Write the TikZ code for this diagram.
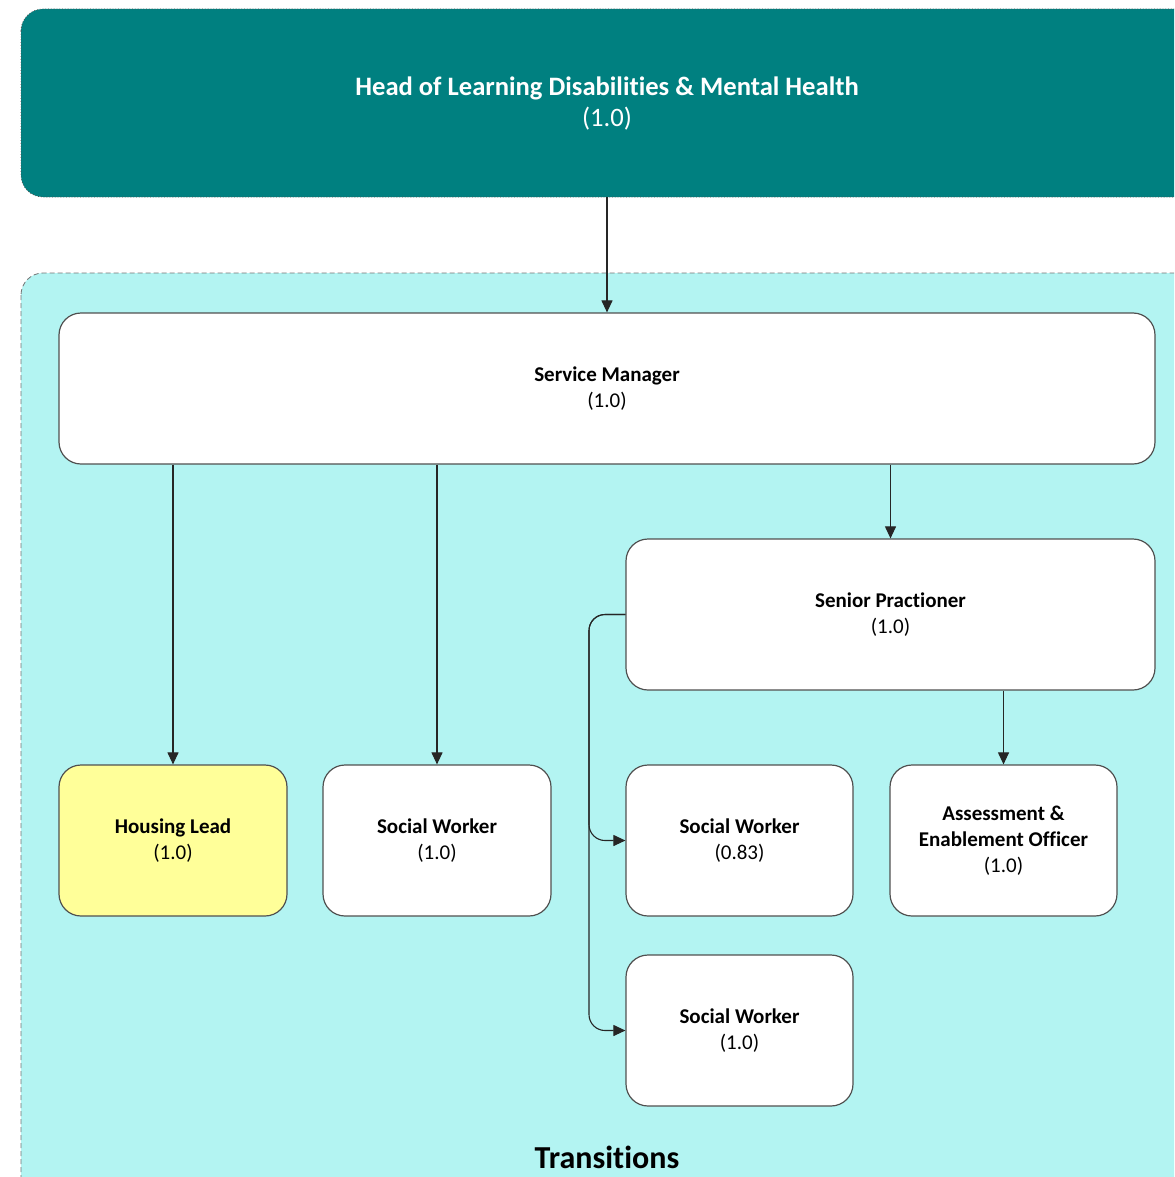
\documentclass[tikz,border=0pt]{standalone}
\usepackage{fontspec}
\setmainfont{Carlito}[Ligatures=NoCommon]
\usetikzlibrary{arrows.meta,positioning}

\definecolor{headteal}{HTML}{008080}
\definecolor{groupcyan}{HTML}{B3F4F2}
\definecolor{leadyellow}{HTML}{FFFF99}
\definecolor{edgegray}{HTML}{505050}

% break the t-i ligature
\newcommand{\tsep}{\kern0pt}

\tikzset{
    orgbox/.style={draw=edgegray, line width=0.6pt, fill=white, rounded corners=11pt, align=center,
        inner sep=0pt, font=\fontsize{10.5}{13}\selectfont},
    link/.style={draw=black!85, line width=0.55pt, -{Triangle[length=6pt,width=5.5pt]}}
}

\begin{document}
\begin{tikzpicture}[x=0.5pt, y=-0.5pt]
    \clip (0,0) rectangle (1174,1177);

    % Head box, runs off the right edge
    \draw[draw=edgegray, densely dotted, fill=headteal, rounded corners=11pt]
        (21,9) rectangle (1240,197);
    \node[text=white, align=center, font=\fontsize{13.3}{15.5}\selectfont] (head) at (607,104)
        {\textbf{Head of Learning Disabilit\tsep ies \& Mental Health}\\(1.0)};
    \coordinate (headbot) at (607,197);

    % Transitions group
    \draw[draw=edgegray!80, dashed, dash pattern=on 2.5pt off 1.5pt, fill=groupcyan, rounded corners=11pt]
        (21,273) rectangle (1240,1240);
    \node[font=\fontsize{16}{19}\selectfont\bfseries] (group) at (607,1157) {Transit\tsep ions};

    % Boxes
    \node[orgbox, minimum width=548pt, minimum height=75.5pt] (svcmgr) at (607,388.5)
        {\textbf{Service Manager}\\(1.0)};
    \node[orgbox, minimum width=264.5pt, minimum height=75.5pt] (senior) at (890.5,614.5)
        {\textbf{Senior Pract\tsep ioner}\\(1.0)};
    \node[orgbox, fill=leadyellow, minimum width=114pt, minimum height=75.5pt] (housing) at (173,840.5)
        {\textbf{Housing Lead}\\(1.0)};
    \node[orgbox, minimum width=114pt, minimum height=75.5pt] (socwkA) at (437,840.5)
        {\textbf{Social Worker}\\(1.0)};
    \node[orgbox, minimum width=113.5pt, minimum height=75.5pt] (socwkB) at (739.5,840.5)
        {\textbf{Social Worker}\\(0.83)};
    \node[orgbox, minimum width=113.5pt, minimum height=75.5pt] (assess) at (1003.5,840.5)
        {\textbf{Assessment \&}\\\textbf{Enablement Officer}\\(1.0)};
    \node[orgbox, minimum width=113.5pt, minimum height=75.5pt] (socwkC) at (739.5,1030.5)
        {\textbf{Social Worker}\\(1.0)};

    % Connectors
    \draw[link] (headbot) -- (svcmgr.north);
    \draw[link] (svcmgr.south -| housing.north) -- (housing.north);
    \draw[link] (svcmgr.south -| socwkA.north) -- (socwkA.north);
    \draw[link] (svcmgr.south -| senior.north) -- (senior.north);
    \draw[link] (senior.south -| assess.north) -- (assess.north);
    \draw[link, rounded corners=8pt] (senior.west) -| (589,840.5) -- (socwkB.west);
    \draw[link, rounded corners=8pt] (senior.west) -| (589,1030.5) -- (socwkC.west);
\end{tikzpicture}
\end{document}
